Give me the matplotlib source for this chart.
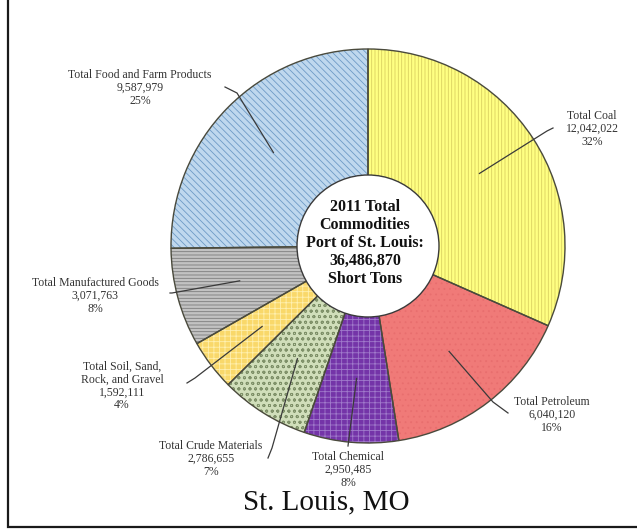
import matplotlib
matplotlib.use("Agg")
import matplotlib.pyplot as plt
import numpy as np

# data, clockwise from 12 o'clock
categories = ["Total Coal", "Total Petroleum", "Total Chemical",
              "Total Crude Materials", "Total Soil, Sand,\nRock, and Gravel",
              "Total Manufactured Goods", "Total Food and Farm Products"]
tons = [12042022, 6040120, 2950485, 2786655, 1592111, 3071763, 9587979]
pct_labels = ["32%", "16%", "8%", "7%", "4%", "8%", "25%"]
total_tons = "36,486,870"

# styles
face_colors = ["#FFFF82", "#F07A78", "#7434A8", "#D0DEBA", "#F9D86A", "#C2C2C2", "#BFD8EE"]
hatch_colors = ["#D9D060", "#E86E6E", "#A07ACB", "#7E9068", "#FFF0B0", "#7C7C7C", "#6E9AC6"]
hatches = ["|||||", "...", "+++", "ooo", "+++", "-----", "\\\\\\\\\\"]

W, H = 637, 529
plt.rcParams["font.family"] = ["Liberation Serif", "DejaVu Serif"]
plt.rcParams["hatch.linewidth"] = 0.6

fig = plt.figure(figsize=(W / 100, H / 100), dpi=100)
ax = fig.add_axes([0, 0, 1, 1])

cx, cy, R = 368, H - 246, 197

wedges, _ = ax.pie(tons, startangle=90, counterclock=False, center=(cx, cy),
                   radius=R, colors=face_colors, hatch=hatches,
                   wedgeprops=dict(linewidth=0))
for w, hc in zip(wedges, hatch_colors):
    w.set_edgecolor(hc)
    w.set_linewidth(0)

# outlines on top of the hatching
ax.pie(tons, startangle=90, counterclock=False, center=(cx, cy), radius=R,
       wedgeprops=dict(fill=False, edgecolor="#4a4a3c", linewidth=1.0))

# white centre
ax.add_patch(plt.Circle((cx, cy), 71, facecolor="white", edgecolor="#3a3a3a",
                        linewidth=1.0, zorder=5))
ax.text(cx - 3, cy + 3, "2011 Total\nCommodities\nPort of St. Louis:\n"
        + total_tons + "\nShort Tons", ha="center", va="center",
        fontsize=11.5, fontweight="bold", color="#111111", linespacing=1.15,
        zorder=6)

# label layout (pixel positions in the picture, y measured from top)
label_xy = [(592, 129), (552, 415), (348, 470), (211, 459), (122, 386),
            (95, 296), (140, 88)]
elbow_xy = [(547, 131), (493, 402), (350, 430), (272, 448), (195, 378),
            (172, 293), (237, 93)]
end_xy = [(553, 128), (508, 413), (348, 446), (268, 458), (187, 383),
          (170, 293), (225, 87)]

fracs = np.array(tons) / np.sum(tons)
edges = 90 - 360 * np.concatenate([[0], np.cumsum(fracs)])
mids = np.deg2rad((edges[:-1] + edges[1:]) / 2)

for i, name in enumerate(categories):
    x0 = cx + 0.675 * R * np.cos(mids[i])
    y0 = cy + 0.675 * R * np.sin(mids[i])
    ex, ey = elbow_xy[i]
    tx, ty = end_xy[i]
    ax.plot([x0, ex, tx], [y0, H - ey, H - ty], color="#3a3a3a", lw=0.9,
            zorder=4)
    lx, ly = label_xy[i]
    ax.text(lx, H - ly, f"{name}\n{tons[i]:,}\n{pct_labels[i]}",
            ha="center", va="center", fontsize=8.5, color="#333333",
            linespacing=1.1)

ax.text(326, H - 502, "St. Louis, MO", ha="center", va="center",
        fontsize=21, color="#111111")

# frame: left and bottom edge only
ax.plot([8, 8, W], [H, H - 527, H - 527], color="#1a1a1a", lw=1.6,
        solid_joinstyle="miter", clip_on=False)

ax.set_xlim(0, W)
ax.set_ylim(0, H)
ax.set_aspect("auto")
ax.axis("off")

fig.savefig("out.png", dpi=100)
